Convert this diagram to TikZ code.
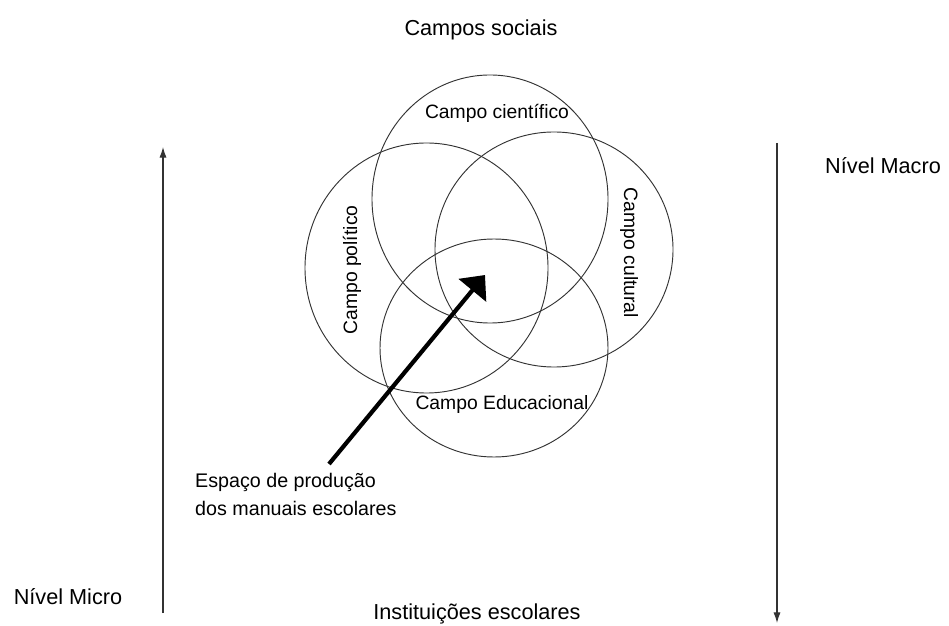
\documentclass[tikz,border=0pt]{standalone}
\usepackage{fontspec}
\setmainfont{Liberation Sans}
\usepackage{tikz}
\usetikzlibrary{positioning, shapes.geometric, arrows.meta}
\tikzset{
	every node/.append style={
		inner sep=0pt,
	},
	field/.append style={
		draw=black!80,
		line width=0.8pt,
		ellipse,
		minimum width=7mm,
	},
	labe/.append style={
		align = center,
		font={\fontsize{16.5}{19}\selectfont}
	},
	outer/.append style={
		align = center,
		font={\fontsize{18.5}{22}\selectfont}
	}
}

\begin{document}
\begin{tikzpicture}[
	x=0.03cm, y=-0.03cm,
	level/.style = {draw=black!80, line width=0.9pt, -{Latex[length=9pt,width=6pt]}},
	push/.style = {draw=black, line width=3.6pt, -{Triangle[length=17pt,width=30pt]}}
	]
	\useasboundingbox (0,0) rectangle (949,626);
	% the four fields
	\node[field, minimum width=7.08cm, minimum height=7.44cm] (sci) at (490,199) {};
	\node[field, minimum width=7.29cm, minimum height=7.5cm] (pol) at (426.5,268) {};
	\node[field, minimum width=7.14cm, minimum height=7.05cm] (cult) at (554,249.5) {};
	\node[field, minimum width=6.84cm, minimum height=6.54cm] (edu) at (494,348) {};
	
	\node[labe] (scilab) at (497,113) {Campo científico};
	\node[labe, rotate=90] (pollab) at (352,270) {Campo político};
	\node[labe, rotate=-90] (cultlab) at (629,253) {Campo cultural};
	\node[labe] (edulab) at (502,405) {Campo Educacional};
	
	% outer labels
	\node[outer] (social) at (481,30) {Campos sociais};
	\node[outer] (inst) at (477,614) {Instituições escolares};
	\node[outer, anchor=west] (macro) at (825,166) {Nível Macro};
	\node[outer] (micro) at (68,597) {Nível Micro};
	
	% levels
	\coordinate (microbot) at (163,613);
	\coordinate (microtop) at (163,147);
	\coordinate (macrotop) at (777,143);
	\coordinate (macrobot) at (777,623);
	\draw[level] (microbot) to (microtop);
	\draw[level] (macrotop) to (macrobot);
	
	% production space
	\node[labe, align=left, anchor=north west, font={\fontsize{16.8}{24}\selectfont}] (espaco) at (195,473) {Espaço de produção\\dos manuais escolares};
	\coordinate (tail) at (329,464);
	\coordinate (core) at (485,275);
	\draw[push] (tail) to (core);
	
	\end{tikzpicture}
\end{document}
